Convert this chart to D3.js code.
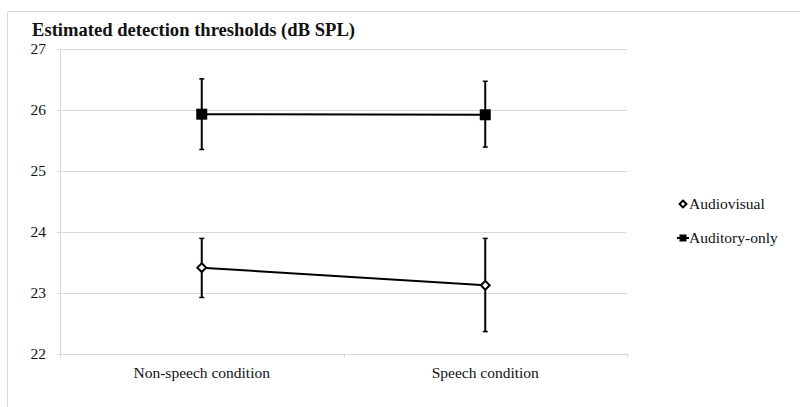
<!DOCTYPE html>
<html><head><meta charset="utf-8">
<script src="https://cdn.jsdelivr.net/npm/d3@7"></script>
<style>
body{margin:0;background:#fff;}
svg{display:block;font-family:"Liberation Serif","DejaVu Serif",serif;}
</style></head>
<body><svg id="c" width="800" height="407"></svg>
<script>
const categories = ["Non-speech condition", "Speech condition"];
const seriesNames = ["Audiovisual", "Auditory-only"];
const audiovisualMean = [23.41, 23.12];
const audiovisualHigh = [23.89, 23.89];
const audiovisualLow = [22.92, 22.36];
const auditoryMean = [25.93, 25.92];
const auditoryHigh = [26.51, 26.47];
const auditoryLow = [25.35, 25.39];
const yTicks = [22, 23, 24, 25, 26, 27];
const title = "Estimated detection thresholds (dB SPL)";

const svg = d3.select("#c");
// outer frame
svg.append("path").attr("d","M7.5,407 V11.5 H800").attr("fill","none").attr("stroke","#d9d9d9").attr("stroke-width",1);

const x0 = 60, x1 = 627, yTop = 49, yBot = 353.5;
const x = d3.scaleBand().domain(categories).range([x0, x1]);
const y = d3.scaleLinear().domain([22, 27]).range([yBot, yTop]);

// gridlines
svg.append("g").selectAll("line").data(yTicks).join("line")
  .attr("x1", x0-3).attr("x2", x1)
  .attr("y1", d=>Math.round(y(d))+0.5).attr("y2", d=>Math.round(y(d))+0.5)
  .attr("stroke","#d9d9d9").attr("stroke-width",1);
// y axis line
svg.append("line").attr("x1",x0+0.5).attr("x2",x0+0.5).attr("y1",yTop).attr("y2",yBot+4)
  .attr("stroke","#d9d9d9");
// x ticks
const bounds = [x0, x0 + x.bandwidth(), x1];
svg.append("g").selectAll("line").data(bounds).join("line")
  .attr("x1", d=>Math.round(d)+0.5).attr("x2", d=>Math.round(d)+0.5)
  .attr("y1", yBot).attr("y2", yBot+4).attr("stroke","#d9d9d9");

// y labels
svg.append("g").selectAll("text").data(yTicks).join("text")
  .attr("x", 46).attr("y", d=>y(d)).attr("dy","0.35em")
  .attr("text-anchor","end").attr("font-size",15.5).attr("fill","#111")
  .text(d=>d);
// x labels
svg.append("g").selectAll("text").data(categories).join("text")
  .attr("x", d=>x(d)+x.bandwidth()/2).attr("y", 378)
  .attr("text-anchor","middle").attr("font-size",15.5).attr("fill","#111")
  .text(d=>d);
// title
svg.append("text").attr("x",32).attr("y",36).attr("font-size",18.6).attr("font-weight","bold")
  .attr("fill","#111").text(title);

const series = [
  {name: seriesNames[0], mean: audiovisualMean, hi: audiovisualHigh, lo: audiovisualLow, marker: "diamond"},
  {name: seriesNames[1], mean: auditoryMean, hi: auditoryHigh, lo: auditoryLow, marker: "square"}
];
const cx = c => x(c) + x.bandwidth()/2;
const line = d3.line().x(d=>cx(d.c)).y(d=>y(d.v));

series.forEach(s => {
  const pts = categories.map((c,i)=>({c, v:s.mean[i], hi:s.hi[i], lo:s.lo[i]}));
  const g = svg.append("g");
  // error bars
  pts.forEach(p => {
    g.append("line").attr("x1",cx(p.c)).attr("x2",cx(p.c)).attr("y1",y(p.hi)).attr("y2",y(p.lo))
      .attr("stroke","#000").attr("stroke-width",2);
    [p.hi,p.lo].forEach(v => g.append("line").attr("x1",cx(p.c)-2.5).attr("x2",cx(p.c)+2.5)
      .attr("y1",y(v)).attr("y2",y(v)).attr("stroke","#000").attr("stroke-width",1.5));
  });
  g.append("path").datum(pts).attr("d", line).attr("fill","none").attr("stroke","#000").attr("stroke-width",2);
  pts.forEach(p => {
    if (s.marker === "square") {
      g.append("rect").attr("x",cx(p.c)-5.5).attr("y",y(p.v)-5.5).attr("width",11).attr("height",11).attr("fill","#000");
    } else {
      g.append("path").attr("d", d3.symbol(d3.symbolDiamond2, 50)())
        .attr("transform",`translate(${cx(p.c)},${y(p.v)})`)
        .attr("fill","#fff").attr("stroke","#000").attr("stroke-width",2);
    }
  });
});

// legend
const leg = svg.append("g");
const legY = [204, 238];
series.forEach((s,i) => {
  const ly = legY[i];
  if (s.marker === "square") {
    leg.append("line").attr("x1",677).attr("x2",689).attr("y1",ly).attr("y2",ly).attr("stroke","#000").attr("stroke-width",2);
    leg.append("rect").attr("x",679.5).attr("y",ly-3.5).attr("width",7).attr("height",7).attr("fill","#000");
  } else {
    leg.append("path").attr("d", d3.symbol(d3.symbolDiamond2, 30)())
      .attr("transform",`translate(683,${ly})`).attr("fill","#fff").attr("stroke","#000").attr("stroke-width",2);
  }
  leg.append("text").attr("x",689).attr("y",ly).attr("dy","0.35em").attr("font-size",15.5).attr("fill","#111").text(s.name);
});
</script></body></html>
